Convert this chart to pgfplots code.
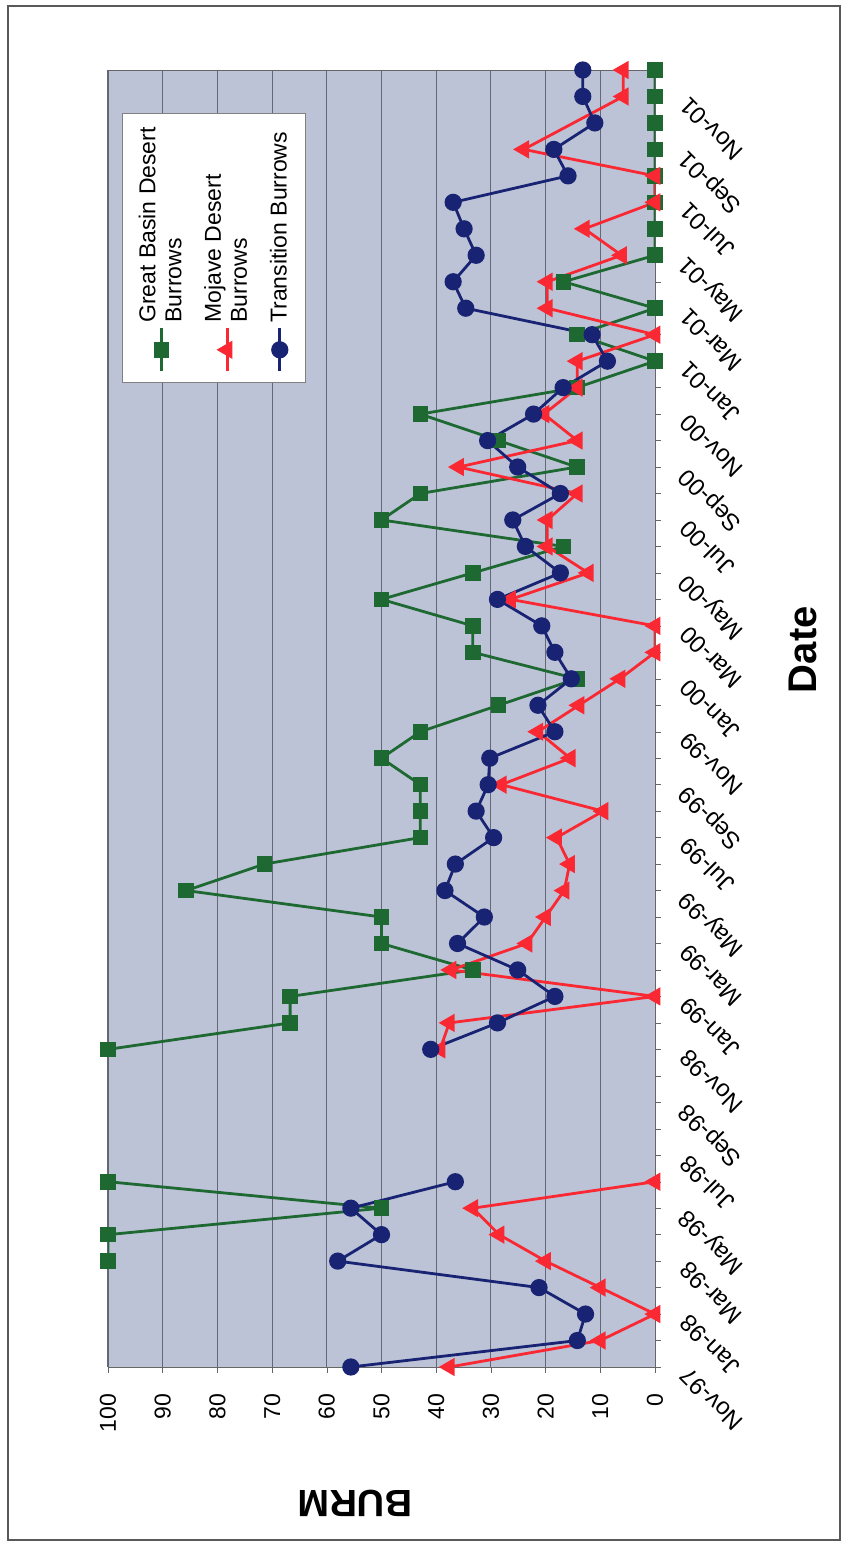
\documentclass[border=0pt]{standalone}
\usepackage{fontspec}
\setmainfont{Liberation Sans}
\usepackage{pgfplots}
\pgfplotsset{compat=1.18}
\definecolor{gbgreen}{RGB}{30,105,50}
\definecolor{mjred}{RGB}{250,40,50}
\definecolor{trnavy}{RGB}{25,35,115}
\definecolor{plotbg}{RGB}{188,195,214}
\definecolor{gridc}{RGB}{100,103,118}
\begin{document}
\begin{tikzpicture}[rotate=90,transform shape]
\path[use as bounding box] (0,0) rectangle (773pt,423.5pt);
\draw[line width=1.2pt,black!65] (3pt,3.5pt) rectangle (770pt,419.5pt);
\begin{axis}[
  at={(89.5pt,96pt)}, anchor=south west,
  width=648.5pt, height=273.5pt, scale only axis,
  xmin=0, xmax=49, ymin=0, ymax=100,
  unbounded coords=jump,
  axis background/.style={fill=plotbg},
  axis line style={black!60},
  ytick={0,10,...,100},
  ymajorgrids, grid style={gridc, line width=0.5pt},
  xtick={0,2,...,48},
  minor xtick={1,3,...,49},
  xticklabels={Nov-97,Jan-98,Mar-98,May-98,Jul-98,Sep-98,Nov-98,Jan-99,Mar-99,May-99,Jul-99,Sep-99,Nov-99,Jan-00,Mar-00,May-00,Jul-00,Sep-00,Nov-00,Jan-01,Mar-01,May-01,Jul-01,Sep-01,Nov-01},
  tick align=outside, major tick length=3pt, minor tick length=3pt,
  tick style={black!60},
  xtick pos=bottom, ytick pos=left,
  /pgf/number format/assume math mode=true,
  xticklabel shift=9pt, yticklabel shift=7pt,
  xticklabel style={rotate=45, anchor=east, font=\fontsize{12}{14}\selectfont},
  yticklabel style={font=\fontsize{11.5}{13}\selectfont},
  xlabel={Date}, ylabel={BURM},
  every axis x label/.style={at={(axis description cs:0.553,0)}, yshift=-74pt, anchor=center, font=\fontsize{20}{22}\selectfont\bfseries},
  every axis y label/.style={at={(axis description cs:0,0.548)}, xshift=-68pt, anchor=center, rotate=90, font=\fontsize{19}{21}\selectfont\bfseries},
  legend style={at={(0.967,0.974)}, anchor=north east, draw=black!50, fill=white,
    font=\fontsize{11.5}{13}\selectfont, cells={align=left}, row sep=6pt,
    inner xsep=5pt, inner ysep=6pt},
  legend cell align=left,
  legend image code/.code={\draw[mark repeat=2,mark phase=2] plot coordinates {(0cm,0cm) (0.38cm,0cm) (0.76cm,0cm)};},
]
\addplot[gbgreen, line width=1.4pt, mark=square*, mark size=3.2pt, mark options={solid,fill=gbgreen}] table {
t v
4 100
5 100
6 50
7 100
8 nan
12 100
13 66.7
14 66.7
15 33.3
16 50
17 50
18 85.7
19 71.4
20 42.9
21 42.9
22 42.9
23 50
24 42.9
25 28.6
26 14.3
27 33.3
28 33.3
29 50
30 33.3
31 16.7
32 50
33 42.9
34 14.3
35 28.6
36 42.9
37 14.3
38 0
39 14.3
40 0
41 16.7
42 0
43 0
44 0
45 0
46 0
47 0
48 0
49 0
};
\addlegendentry{Great Basin Desert\\Burrows}
\addplot[mjred, line width=1.4pt, mark=triangle*, mark size=3.9pt, mark options={solid,fill=mjred}] table {
t v
0 37.6
1 10
2 0
3 10
4 20
5 28.5
6 33.3
7 0
8 nan
12 39.3
13 37.6
14 0
15 37.3
16 23.4
17 20
18 16.6
19 15.6
20 18
21 9.5
22 28.1
23 15.5
24 21.4
25 13.9
26 6.4
27 0
28 0
29 26.4
30 12.2
31 19.7
32 19.7
33 14.2
34 35.9
35 14.2
36 20.3
37 14.2
38 14.2
39 0
40 19.7
41 19.7
42 6.1
43 12.9
44 0
45 0
46 24
48 5.8
49 5.8
};
\addlegendentry{Mojave Desert\\Burrows}
\addplot[trnavy, line width=1.4pt, mark=*, mark size=3.6pt, mark options={solid,fill=trnavy}] table {
t v
0 55.6
1 14.2
2 12.7
3 21.2
4 58
5 50
6 55.6
7 36.5
8 nan
12 41
13 28.8
14 18.3
15 25.1
16 36.1
17 31.2
18 38.4
19 36.5
20 29.5
21 32.7
22 30.5
23 30.2
24 18.3
25 21.4
26 15.3
27 18.3
28 20.7
29 28.8
30 17.3
31 23.7
32 26
33 17.3
34 25.1
35 30.6
36 22.2
37 16.8
38 8.7
39 11.5
40 34.6
41 36.9
42 32.7
43 34.9
44 36.9
45 15.9
46 18.5
47 11
48 13.2
49 13.2
};
\addlegendentry{Transition Burrows}
\end{axis}
\end{tikzpicture}
\end{document}
